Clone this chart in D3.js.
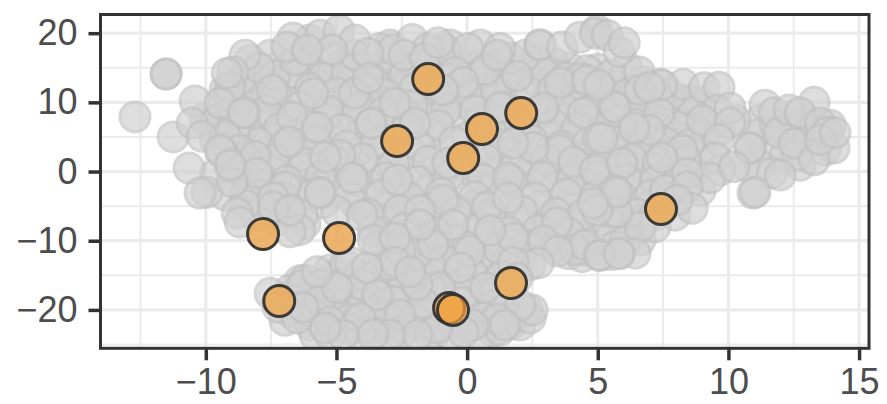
<!DOCTYPE html>
<html>
<head>
<meta charset="utf-8">
<script src="https://cdn.jsdelivr.net/npm/d3@7"></script>
<style>
  html, body { margin: 0; padding: 0; background: #fff; overflow: hidden; }
</style>
</head>
<body>
<div id="chart"></div>
<script>
var width = 887;
var height = 404;

var xTicks = [-10, -5, 0, 5, 10, 15];
var yTicks = [-20, -10, 0, 10, 20];
var xMinor = [-12.5, -7.5, -2.5, 2.5, 7.5, 12.5];
var yMinor = [-25, -15, -5, 5, 15];

// points, the ones buried in the middle come first
var deepX = [
  -7.2,-6,-4.9,-3.9,-3.3,-2.4,-1.4,-0.3,0.9,1.9,3,3.9,5,6.1,
  -8,-6.9,-5.8,-4.7,-3.4,-2.8,-1.5,-0.4,0.6,1.6,2.8,3.7,4.8,5.7,6.7,7.4,
  -8.7,-7.7,-6.6,-5.6,-4.6,-3.5,-2.5,-1.5,-0.3,0.7,1.9,3.1,4.1,5.1,6.2,7.1,8,8.9,
  -9.1,-8,-6.9,-5.4,-4.3,-2.9,-1.7,-0.6,0.5,1.6,2.7,3.9,4.9,5.8,6.9,7.8,8.7,
  -8.7,-7.6,-6.5,-5.3,-4.1,-3,-1.4,0,1.7,3,4,5.1,6.1,7.1,8,9,
  -8.6,-7.6,-6.6,-5.5,-4.3,-3.2,-2.1,-0.9,0.4,1.5,2.5,3.7,4.8,5.8,6.9,7.9,8.9,
  -8.6,-7.5,-6.4,-5.3,-4.5,-3.4,-2.2,-1,0.1,1.2,2.4,3.5,4.6,5.7,6.8,7.8,8.7,
  -8.4,-7.5,-6.2,-5,-3.7,-2.5,-1.3,0,1,2.2,3.4,4.5,5.6,6.6,7.6,
  -7.9,-6.8,-5.5,-4.2,-3,-2,-0.8,0.3,1.5,2.8,3.9,5,6.1,7.1,
  -7.3,-6.2,-3.2,-2,-0.9,0.5,1.2,2.3,3.1,4.3,5,6,
  -3,-1.7,-0.6,0.7,1.9,3.5,4.4,5.4,6.2,
  -0.3,1,2.1,3.9,4.4,5.5,
  -3.2,-2.1,-0.9,0.6,1.5,
  -6.4,-5.5,-4.4,-3.1,-2,-0.8,0.4,1.6,
  -6.9,-5.7,-4.5,-3.3,-2.2,-0.9,0.5,1.6,
  -6.8,-5.7,-4.6,-3.5,-2.3,-1.1,0.2,1.3,2.3,
  -5.6,-4.3,-3.1,-1.8,-0.6,0.8,1.7
];
var deepY = [
  15.2,14.8,15.3,14.7,15.1,14.9,15.4,14.8,15.2,14.7,15.3,15.0,14.8,15.1,
  12.6,13.1,12.5,12.9,13.0,12.4,12.8,13.2,12.6,12.9,12.5,13.1,12.7,12.4,13.0,12.6,
  10.1,10.5,10.0,10.6,10.2,10.4,9.9,10.5,10.1,10.4,10.0,10.6,10.2,10.5,10.1,10.3,10.6,10.0,
  7.6,8.0,7.5,7.9,7.7,8.1,7.6,7.9,7.5,8.0,7.7,7.8,8.1,7.5,7.9,7.6,8.0,
  5.4,5.0,5.5,4.9,5.3,5.1,5.5,4.9,5.2,5.4,5.0,5.3,4.9,5.5,5.1,5.3,
  2.6,3.0,2.5,2.9,2.7,3.1,2.6,3.0,2.5,2.9,2.7,3.1,2.6,2.9,2.5,3.0,2.7,
  0.4,0.0,0.5,-0.1,0.3,0.1,0.5,-0.1,0.2,0.4,0.0,0.3,-0.2,0.5,0.1,0.3,0.0,
  -2.0,-2.4,-1.9,-2.5,-2.1,-2.3,-1.9,-2.4,-2.0,-2.5,-2.2,-1.9,-2.4,-2.1,-2.3,
  -4.6,-5.0,-4.5,-4.9,-4.7,-5.1,-4.6,-4.9,-4.5,-5.0,-4.7,-4.8,-5.1,-4.6,
  -7.1,-7.5,-7.0,-7.4,-7.2,-7.6,-7.1,-7.4,-7.0,-7.5,-7.2,-7.4,
  -9.6,-10.0,-9.5,-9.9,-9.7,-10.1,-9.6,-9.9,-9.5,
  -12.2,-11.8,-12.1,-11.9,-12.3,-12.0,
  -13.3,-13.7,-13.4,-13.6,-13.2,
  -15.8,-16.2,-15.7,-16.1,-15.9,-16.3,-15.8,-16.1,
  -18.2,-17.8,-18.1,-17.9,-18.3,-17.7,-18.0,-18.2,
  -20.2,-19.8,-20.1,-19.7,-20.3,-19.9,-20.2,-19.8,-20.0,
  -22.0,-21.8,-22.2,-21.9,-22.1,-21.7,-22.0
];

var buriedX = [
  -6.2,-5.1,-4.3,-2.9,-1.9,-0.9,0.4,1.3,2.6,3.3,
  -7.6,-6.6,-5.5,-4.6,-3.6,-2.4,-0.7,0.5,1.6,2.9,3.8,4.6,5.5,
  -8.4,-7.3,-6,-5,-3.9,-3.1,-2,-1,0.1,1.1,2.4,3.3,4.2,5.2,6.1,
  -8.9,-7.7,-6.4,-5.3,-4.2,-3.2,-2.1,-0.8,0.3,1.4,2.8,3.7,4.7,5.6,6.6,7.5,8.4,
  -8.5,-7.2,-6,-4.8,-3.7,-2.3,-1.1,0.9,2.2,3.3,4.2,5.3,6.4,7.3,8.1,9.2,
  -8,-7,-5.8,-4.6,-3.5,-1.8,-0.5,1.2,2.5,3.6,4.6,5.6,6.7,7.6,8.5,
  -8.3,-7.4,-6.2,-5.1,-4,-2.8,-1.5,0.7,1.9,3,4.2,5.2,6.3,7.3,8.4,
  -7.9,-6.9,-5.6,-4.3,-3.1,-1.9,-0.7,0.6,1.7,2.9,4,5,6.1,7.2,8.1,
  -8,-7,-5.9,-4.5,-3.3,-2.2,-1,0.3,1.4,2.6,3.8,4.9,6,7,7.8,
  -7.4,-6.3,-5,-3.8,-2.6,-1.6,-0.4,0.9,2.1,3.4,4.4,5.5,6.5,
  -6.4,-3.6,-2.4,-1.2,0.4,1.6,2.7,3.9,
  -3.4,-2.1,0,1.2,2.3,3.3,4.6,5.7,
  -5,-3.8,-2.5,-1.2,0.2,1.3,
  -6.1,-5,-3.7,-2.6,-1.4,0,1.1,
  -6.4,-5.2,-4,-2.8,-1.6,-0.2,1,
  -5.8,-4.5,-3.2,-2,-0.7,0.6,1.7,
  -4.5,-3.5,-2.4,-1.2,0,1
];
var buriedY = [
  15.8,16.4,15.6,16.2,15.1,16.0,15.5,15.2,16.1,15.7,
  13.8,14.2,13.6,14.4,13.2,13.9,13.4,14.1,13.7,14.3,13.6,14.6,14.0,
  11.6,11.1,12.0,11.4,11.8,11.2,12.1,11.5,11.0,11.7,11.3,11.9,11.1,11.6,11.2,
  9.2,8.8,9.4,8.7,9.1,8.6,9.5,9.0,8.8,9.3,8.6,9.1,8.9,9.4,8.7,9.2,9.0,
  6.8,6.2,6.6,6.1,6.9,6.4,6.7,6.0,6.5,6.8,6.2,6.6,6.9,6.3,6.5,6.1,
  4.2,3.8,4.4,3.7,4.1,3.6,4.3,3.9,4.5,3.7,4.0,4.4,3.8,4.2,3.9,
  1.3,1.7,1.2,1.6,1.9,1.1,1.5,1.8,1.2,1.6,1.0,1.4,1.8,1.3,1.6,
  -0.8,-1.3,-0.7,-1.2,-0.9,-1.4,-0.6,-1.1,-1.3,-0.8,-1.2,-0.7,-1.0,-1.4,-0.9,
  -3.3,-3.8,-3.2,-3.7,-3.4,-3.9,-3.1,-3.6,-3.3,-3.8,-3.2,-3.5,-3.9,-3.4,-3.7,
  -5.8,-6.3,-5.7,-6.1,-5.6,-6.4,-5.9,-6.2,-5.7,-6.0,-6.3,-5.8,-6.1,
  -8.4,-8.6,-8.2,-8.8,-8.3,-8.7,-8.5,-8.9,
  -10.8,-11.3,-10.9,-11.2,-10.7,-11.1,-11.4,-10.8,
  -14.8,-15.3,-14.9,-15.2,-14.7,-15.1,
  -16.8,-17.3,-16.9,-17.2,-16.7,-17.1,-17.4,
  -19.2,-18.8,-19.3,-18.7,-19.1,-18.9,-19.4,
  -20.8,-21.3,-20.9,-21.2,-20.7,-21.1,-21.4,
  -22.8,-23.3,-22.9,-23.2,-22.7,-23.1
];

// points along the outline of the cloud
var edgeX = [
  11.21,12.36,12.94,11.6,12.17,13.13,12.74,13.7,13.32,11.02,10.64,11.2,12.74,11.8,13.9,
  -9.84,-9.64,-8.88,-9.64,-9.26,-8.69,-8.88,-9.64,-9.26,-8.5,-8.11,-8.5,-10.03,
  -8.3,-8.69,-9.26,-7.54,-7.35,-6.01,-5.63,-4.29,-2.95,-0.65,-3.33,-2.83,-0.84,0.5,1.65,2.22,1.26,
  -5.24,-4.67,-4.09,-3.52,-2.95,-6.77,-6.2,-5.63,-4.86,-6.58,-6.97,-6,-5.82,-5.24,-4.09,-2.56,-1.42,-0.65,0.5,1.26,2.03,2.41,
  2.41,4.13,4.52,6.62,7.19,7.96,6.05,
  -0.84,-1.42,-1.99,-2.56,
  9.68,10.26,8.92,8.53,7.77,9.68,8.92,7.58
];
var edgeY = [
  7.4,6.7,7.4,3.8,2.4,4.6,6.0,3.1,6.7,5.3,0.9,0.9,0.9,6.7,6.7,
  6.7,4.6,6.0,7.4,5.3,3.1,0.2,-0.5,-3.4,-3.4,-6.3,-4.8,7.7,
  16.1,13.2,11.8,16.8,13.9,19.0,19.7,16.8,18.3,18.3,17.8,17.6,17.6,18.3,16.4,16.8,17.8,
  -14.2,-13.5,-15,-15,-13.5,-17.1,-15.7,-16.4,-16.4,-18.6,-21.5,-22.2,-23.6,-23.6,-23.6,-23.6,-23.6,-23.6,-23.6,-22.9,-22.2,-21.2,
  -13.5,-11.3,-10.6,-9.9,-6.3,-6.3,-9.9,
  -12.9,-13.5,-12.1,-11.3,
  6.0,7.4,9.6,10.3,11.1,0.2,-2.7,-2.7
];

var grayX = [
  -12.71,-11.52,-11.52,-11.25,-10.41,-10.64,-10.52,-10.14,-9.38,-9.03,-8.11,-9.95,-10.22,-9.11,-7.96,-8.5,-8.96,-8.5,-7.46,-6.7,
  -6.58,-6.66,-6.89,-8.04,-6.97,-7.42,-8.99,-9.07,-9.45,-4.9,-4.29,-3.79,-5.17,-6.12,-5.89,-4.32,-3.79,-2.76,-5.74,-3.67,
  -1.99,-4.86,-2.68,-4.4,-5.43,-5.63,-2.1,-1.49,-2.41,-1.61,-1.11,0.04,0.69,-0.46,-0.15,-0.92,1.15,1.91,2.79,2.79,
  3.64,4.32,3.56,2.91,4.44,3.56,4.06,5.01,1.57,2.53,1.76,1.26,-0.73,4.97,4.32,4.9,5.36,5.82,6.01,6.58,
  6.62,8.27,9.07,9.64,7.35,9.57,8.99,10.06,10.06,5.66,5.17,4.9,5.93,5.66,6.97,6.39,8.23,7.46,9.64,9.49,
  9.3,10.83,10.83,11.4,13.28,11.75,11.94,12.32,12.74,13.51,13.78,14.04,12.63,12.51,13.28,11.67,11.98,10.94,11.02,13.51,
  14.08,8.42,10.22,8.42,4.59,5.05,7.46,6.97,8.61,7.19,6.62,6.43,5.82,5.05,5.74,4.97,8.04,5.74,4.82,3.44,
  2.91,3.48,5.09,5.82,2.72,1.76,1.76,0.11,0.77,1.57,-0.92,-0.54,-1.8,-1.3,-1.8,0.88,-1.03,0.69,2.49,2.03,
  1.15,1.45,0.23,-0.15,-1.15,-1.68,-0.27,1.91,-8.8,-8.69,-7.42,-6.77,-6.77,-5.63,-4.02,-3.6,-2.76,-2.76,-4.48,-7.54,
  -7.23,-6.31,-5.63,-4.02,-3.44,-4.09,-2.56,-5.24,-6.5,-6.27,-4.97,-5.74,-3.83,-4.75,-1.91,-2.95,-1.91,-2.18,-5.43,-3.6,
  -9.18,-8.57,-9.45,-9.07,-6.81
];
var grayY = [
  7.9,14.1,14.1,5.0,10.2,0.5,7.0,5.1,2.8,1.2,2.2,-3.0,-3.1,10.9,15.0,16.8,14.4,8.5,11.8,7.9,
  16.1,19.3,18.0,-0.2,-2.2,-3.7,-1.5,12.2,9.9,20.4,19.0,17.1,17.6,17.6,11.3,11.3,13.5,9.9,6.4,7.0,
  7.0,2.4,-1.2,-0.9,2.1,-3.0,19.1,17.8,16.8,16.4,18.6,17.8,14.7,14.4,12.9,11.8,16.8,13.8,18.3,18.3,
  18.0,13.5,12.8,9.2,8.5,3.1,1.4,4.8,-0.9,3.5,4.1,9.3,1.2,20.4,19.4,20.0,19.7,17.3,18.6,14.4,
  11.8,12.6,12.1,12.2,8.5,8.9,7.4,9.2,7.0,9.3,4.8,0.2,1.2,-2.7,6.0,6.3,3.1,2.0,4.6,2.0,
  -0.9,3.4,3.4,9.6,10.0,8.5,5.6,8.9,8.5,7.0,5.7,3.4,2.4,4.1,1.7,-0.2,-0.5,-3.1,-3.0,4.6,
  5.6,-0.2,0.7,-2.2,13.2,12.5,12.5,12.2,-5.3,-8.0,-8.0,-11.8,-11.8,-12.1,-5.9,-5.6,-4.1,-3.0,-4.6,-7.4,
  -10.0,-11.5,-12.1,-11.9,-13.2,-9.6,-13.1,-11.5,-5.1,-3.8,-4.1,-7.7,-5.6,-10.6,-7.7,-8.5,-16.7,-16.8,-20.0,-19.3,
  -21.3,-22.2,-22.2,-23.2,-22.6,-19.0,-13.9,-15.4,-6.0,-7.3,-5.1,-8.7,-5.6,-3.1,-6.3,-9.9,-9.6,-13.1,-13.1,-17.6,
  -19.6,-16.4,-18.7,-16.4,-17.8,-21.2,-20.7,-21.7,-21.2,-19.6,-16.8,-14.5,-13.9,-23.6,-23.6,-23.6,-16.4,-14.5,-22.6,-23.6,
  14.2,8.5,3.1,0.9,4.3
];

var orangeX = [-1.49, 2.07, 0.57, -2.68, -0.15, 7.42, -7.81, -4.9, -7.19, 1.68, -0.69, -0.54];
var orangeY = [13.37, 8.45, 6.14, 4.41, 1.95, -5.42, -9.03, -9.61, -18.71, -16.11, -19.73, -20.01];

var left = 100.5, right = 869, top_ = 14.5, bottom = 348.3;

var x = d3.scaleLinear().domain([-14.03, 15.38]).range([left, right]);
var y = d3.scaleLinear().domain([-25.55, 22.7]).range([bottom, top_]);

var svg = d3.select('#chart').append('svg')
    .attr('width', width)
    .attr('height', height)
    .style('display', 'block');

svg.append('defs').append('clipPath')
    .attr('id', 'panel')
  .append('rect')
    .attr('x', left)
    .attr('y', top_)
    .attr('width', right - left)
    .attr('height', bottom - top_);

function gridX(values, w) {
  svg.append('g').selectAll('line').data(values).enter().append('line')
      .attr('x1', function (d) { return x(d); })
      .attr('x2', function (d) { return x(d); })
      .attr('y1', top_)
      .attr('y2', bottom)
      .attr('stroke', '#ebebeb')
      .attr('stroke-width', w);
}

function gridY(values, w) {
  svg.append('g').selectAll('line').data(values).enter().append('line')
      .attr('x1', left)
      .attr('x2', right)
      .attr('y1', function (d) { return y(d); })
      .attr('y2', function (d) { return y(d); })
      .attr('stroke', '#ebebeb')
      .attr('stroke-width', w);
}

gridX(xMinor, 2);
gridY(yMinor, 2);
gridX(xTicks, 3.2);
gridY(yTicks, 3.2);

var plot = svg.append('g').attr('clip-path', 'url(#panel)');

function grayDots(xs, ys) {
  plot.append('g').selectAll('circle').data(xs).enter().append('circle')
      .attr('cx', function (d) { return x(d); })
      .attr('cy', function (d, i) { return y(ys[i]); })
      .attr('r', 15)
      .attr('fill', '#d1d1d1')
      .attr('stroke', '#c2c2c2')
      .attr('stroke-width', 3)
      .attr('opacity', 0.7);
}

grayDots(deepX, deepY);
grayDots(buriedX, buriedY);
grayDots(edgeX, edgeY);
grayDots(grayX, grayY);
// the highlighted points are in the gray layer as well
grayDots(orangeX, orangeY);

plot.append('g').selectAll('circle').data(orangeX).enter().append('circle')
    .attr('cx', function (d) { return x(d); })
    .attr('cy', function (d, i) { return y(orangeY[i]); })
    .attr('r', 15.5)
    .attr('fill', '#f2a33c')
    .attr('fill-opacity', 0.7)
    .attr('stroke', '#333333')
    .attr('stroke-opacity', 0.95)
    .attr('stroke-width', 3);

svg.append('rect')
    .attr('x', left)
    .attr('y', top_)
    .attr('width', right - left)
    .attr('height', bottom - top_)
    .attr('fill', 'none')
    .attr('stroke', '#333333')
    .attr('stroke-width', 3);

function label(d) {
  return String(d).replace('-', '\u2212');
}

var xAxis = svg.append('g')
    .attr('transform', 'translate(0,' + bottom + ')')
    .call(d3.axisBottom(x).tickValues(xTicks).tickFormat(label).tickSize(12).tickPadding(8));

var yAxis = svg.append('g')
    .attr('transform', 'translate(' + left + ',0)')
    .call(d3.axisLeft(y).tickValues(yTicks).tickFormat(label).tickSize(12).tickPadding(11));

[xAxis, yAxis].forEach(function (a) {
  a.select('.domain').remove();
  a.selectAll('.tick line').attr('stroke', '#333333').attr('stroke-width', 3.5);
  a.selectAll('.tick text')
      .attr('fill', '#4d4d4d')
      .style('font-family', '"Liberation Sans", Arial, sans-serif')
      .style('font-size', '36px');
});
</script>
</body>
</html>
